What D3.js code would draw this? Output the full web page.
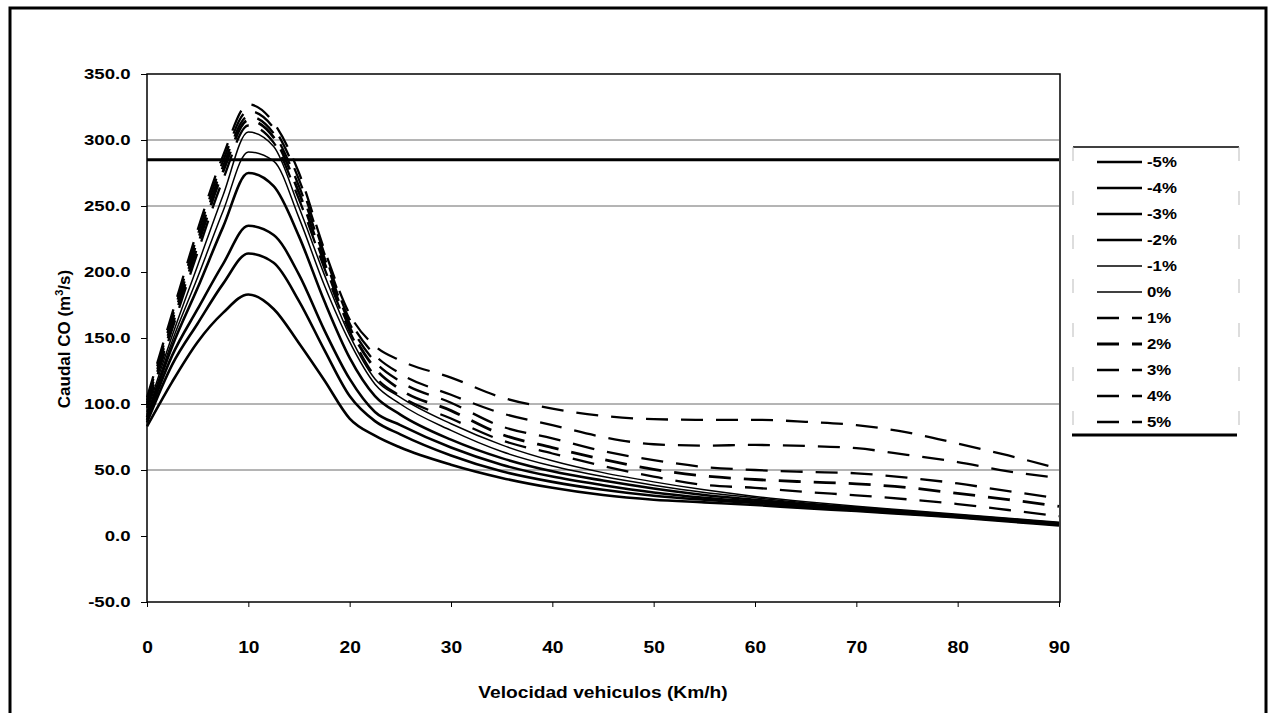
<!DOCTYPE html>
<html>
<head>
<meta charset="utf-8">
<script src="https://cdn.jsdelivr.net/npm/d3@7"></script>
<style>
  body { margin: 0; background: #fff; }
  svg { display: block; font-family: "Liberation Sans", Arial, sans-serif; }
</style>
</head>
<body>
<div id="chart"></div>
<script>
const kWidth = 1274;
const kHeight = 713;
const kStretch = 1.2; // the scanned text is wider than it is tall

const speeds = [0, 2.5, 5, 7.5, 10, 12.5, 15, 17.5, 20, 22.5, 25, 30, 35, 40, 45, 50, 55, 60, 65, 70, 75, 80, 85, 90];
const seriesNames = ["-5%", "-4%", "-3%", "-2%", "-1%", "0%", "1%", "2%", "3%", "4%", "5%"];

const flowM5 = [83, 117, 147, 169, 183, 172, 146, 118, 89, 76, 67, 54, 44, 36.5, 31, 27.5, 25.5, 23.5, 21, 19, 16.5, 14, 11, 8];
const flowM4 = [86, 130, 161, 191, 214, 207, 178, 141, 106, 87, 77, 61, 49, 41, 35, 30.5, 27.5, 25, 22, 19.5, 17, 14.5, 11.5, 8.5];
const flowM3 = [88, 137, 172, 206, 235, 228, 198, 156, 119, 94, 84, 67, 54, 45, 38.5, 33, 29, 26, 23, 20, 17.5, 15, 12, 9];
const flowM2 = [90, 144, 188, 234, 275, 265, 227, 178, 135, 106, 92, 73, 59, 49, 42, 36, 31, 27.5, 24, 21, 18, 15.5, 12.5, 9.5];
const flowM1 = [92, 148, 196, 246, 291, 284, 241, 190, 147, 115, 100, 80, 64, 53, 45, 38.5, 33, 29, 25, 22, 19, 16, 13, 10];
const flowZero = [94, 152, 205, 258, 306, 295, 249, 198, 152, 119, 105, 85, 69, 57, 48, 41, 35, 30, 26, 22.5, 19.5, 16.5, 13.5, 10.5];
const flowP1 = [97, 157, 215, 270, 311, 298, 255, 203, 155, 121, 106, 89, 72.5, 62.5, 53, 45, 38.7, 36.5, 33.4, 30.8, 27.8, 24.2, 19.7, 15];
const flowP2 = [99, 160, 220, 276, 315, 302, 260, 207, 158, 127, 111, 95, 77, 67, 58, 50.5, 45.5, 42.8, 41, 39.5, 36.7, 32.3, 27.6, 22.5];
const flowP3 = [101, 163, 224, 280, 318, 305, 265, 211, 161, 132, 117, 101, 83, 74, 64.3, 57.5, 52.3, 50, 48.6, 47.5, 44.2, 39.8, 34, 28.5];
const flowP4 = [103, 166, 228, 284, 322, 309, 270, 214, 164, 137, 123, 107, 93, 84, 75, 69.5, 68.5, 69, 68.2, 66.5, 61.5, 56, 49, 44];
const flowP5 = [105, 169, 232, 288, 327, 313, 275, 217, 168, 144, 133, 120, 105, 96.5, 91, 88.5, 88, 88, 86.5, 84, 78.5, 70, 61, 51];

const yTicks = [-50, 0, 50, 100, 150, 200, 250, 300, 350];
const xTicks = [0, 10, 20, 30, 40, 50, 60, 70, 80, 90];
const gridValues = [50, 100, 250, 300];
const limitValue = 285;

const allFlows = [flowM5, flowM4, flowM3, flowM2, flowM1, flowZero, flowP1, flowP2, flowP3, flowP4, flowP5];

function seriesStyle(name)
{
  if (name.startsWith("-") && name !== "-1%") return { width: 2.6, dash: null };
  if (name === "-1%" || name === "0%") return { width: 1.5, dash: null };
  return { width: name === "2%" ? 2.8 : 2.3, dash: "22,13" };
}

const fmt = d3.formatLocale({ decimal: ".", thousands: ",", grouping: [3], currency: ["", ""], minus: "-" });

const svg = d3.select("#chart")
  .append("svg")
  .attr("width", kWidth)
  .attr("height", kHeight);

svg.append("rect")
  .attr("width", kWidth)
  .attr("height", kHeight)
  .attr("fill", "#fff");

// outer frame, bottom edge runs off the page like in the scan
svg.append("rect")
  .attr("x", 10)
  .attr("y", 8)
  .attr("width", 1256)
  .attr("height", 730)
  .attr("fill", "none")
  .attr("stroke", "#000")
  .attr("stroke-width", 3);

const xScale = d3.scaleLinear().domain([0, 90]).range([147, 1059]);
const yScale = d3.scaleLinear().domain([-50, 350]).range([602, 74]);

// gridlines
svg.append("g")
  .selectAll("line")
  .data(gridValues)
  .enter()
  .append("line")
  .attr("x1", xScale.range()[0])
  .attr("x2", xScale.range()[1])
  .attr("y1", d => yScale(d))
  .attr("y2", d => yScale(d))
  .attr("stroke", "#6a6a6a")
  .attr("stroke-width", 1);

// limit line
svg.append("line")
  .attr("x1", xScale.range()[0])
  .attr("x2", xScale.range()[1])
  .attr("y1", yScale(limitValue))
  .attr("y2", yScale(limitValue))
  .attr("stroke", "#000")
  .attr("stroke-width", 3);

// plot frame
svg.append("rect")
  .attr("x", xScale.range()[0])
  .attr("y", yScale.range()[1])
  .attr("width", xScale.range()[1] - xScale.range()[0] + 1)
  .attr("height", yScale.range()[0] - yScale.range()[1])
  .attr("fill", "none")
  .attr("stroke", "#000")
  .attr("stroke-width", 1.5);

const line = d3.line()
  .x((d, i) => xScale(speeds[i]))
  .y(d => yScale(d))
  .curve(d3.curveMonotoneX);

svg.append("g")
  .selectAll("path")
  .data(allFlows)
  .enter()
  .append("path")
  .attr("d", d => line(d))
  .attr("fill", "none")
  .attr("stroke", "#000")
  .attr("stroke-width", (d, i) => seriesStyle(seriesNames[i]).width)
  .attr("stroke-dasharray", (d, i) => seriesStyle(seriesNames[i]).dash)
  .attr("stroke-linejoin", "round");

// axes
const yAxis = d3.axisLeft(yScale)
  .tickValues(yTicks)
  .tickSize(6)
  .tickFormat(fmt.format(".1f"));

const yG = svg.append("g")
  .attr("transform", `translate(${xScale.range()[0]}, 0)`)
  .call(yAxis);
yG.select(".domain").remove();
yG.selectAll("text")
  .attr("x", -16.5 / kStretch)
  .attr("transform", `scale(${kStretch}, 1)`)
  .style("font-size", "15.5px")
  .style("font-weight", "bold")
  .style("font-family", "Liberation Sans, Arial, sans-serif")
  .attr("fill", "#000");

const xAxis = d3.axisBottom(xScale)
  .tickValues(xTicks)
  .tickSize(5)
  .tickFormat(d3.format("d"));

const xG = svg.append("g")
  .attr("transform", `translate(0, ${yScale.range()[0]})`)
  .call(xAxis);
xG.select(".domain").remove();
xG.selectAll("text")
  .attr("y", 51)
  .attr("dy", null)
  .attr("transform", `scale(${kStretch}, 1)`)
  .style("font-size", "16px")
  .style("font-weight", "bold")
  .style("font-family", "Liberation Sans, Arial, sans-serif")
  .attr("fill", "#000");

// axis titles
svg.append("text")
  .attr("transform", `translate(603, 692) scale(${kStretch}, 1)`)
  .attr("text-anchor", "middle")
  .attr("dy", "0.35em")
  .style("font-size", "16px")
  .style("font-weight", "bold")
  .text("Velocidad vehiculos (Km/h)");

const yTitle = svg.append("text")
  .attr("transform", "translate(64, 339) rotate(-90)")
  .attr("text-anchor", "middle")
  .attr("dy", "0.35em")
  .style("font-size", "17px")
  .style("font-weight", "bold");
yTitle.append("tspan").text("Caudal CO (m");
yTitle.append("tspan").attr("dy", -7).style("font-size", "11px").text("3");
yTitle.append("tspan").attr("dy", 7).text("/s)");

// legend
const legendY = d3.scalePoint()
  .domain(seriesNames)
  .range([162, 422]);

const legend = svg.append("g");

legend.append("line")
  .attr("x1", 1073).attr("x2", 1239)
  .attr("y1", 147).attr("y2", 147)
  .attr("stroke", "#000").attr("stroke-width", 1.5);
legend.append("line")
  .attr("x1", 1072).attr("x2", 1237)
  .attr("y1", 435).attr("y2", 435)
  .attr("stroke", "#000").attr("stroke-width", 3);
legend.selectAll(".side")
  .data([1073, 1239])
  .enter()
  .append("line")
  .attr("class", "side")
  .attr("x1", d => d).attr("x2", d => d)
  .attr("y1", 147).attr("y2", 435)
  .attr("stroke", "#bbb")
  .attr("stroke-width", 1)
  .attr("stroke-dasharray", "14,30");

const rows = legend.selectAll(".row")
  .data(seriesNames)
  .enter()
  .append("g")
  .attr("class", "row")
  .attr("transform", d => `translate(0, ${legendY(d)})`);

rows.append("line")
  .attr("x1", 1097)
  .attr("x2", 1142)
  .attr("stroke", "#000")
  .attr("stroke-width", d => seriesStyle(d).width)
  .attr("stroke-dasharray", d => seriesStyle(d).dash);

rows.append("text")
  .attr("transform", `translate(1147, 0) scale(${kStretch}, 1)`)
  .attr("dy", "0.36em")
  .style("font-size", "14px")
  .style("font-weight", "bold")
  .text(d => d);
</script>
</body>
</html>
